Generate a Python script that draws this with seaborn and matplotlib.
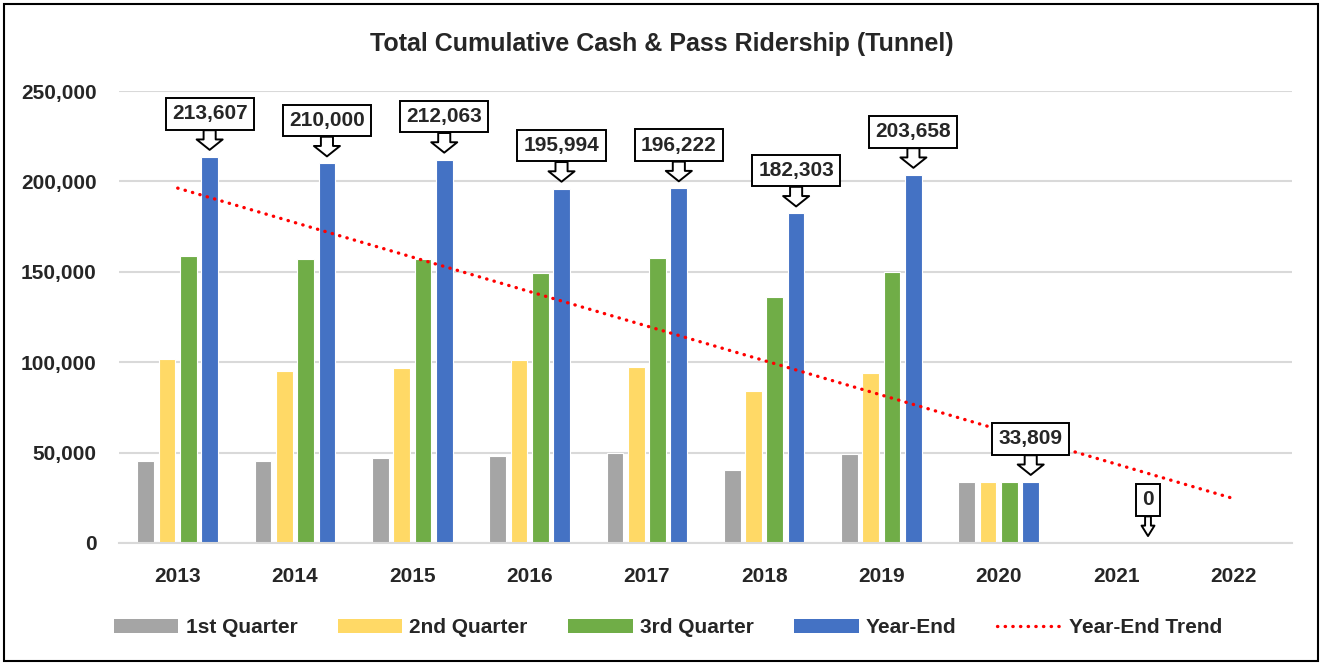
import matplotlib
matplotlib.use("Agg")
import matplotlib.pyplot as plt
from matplotlib.patches import Patch, Rectangle
from matplotlib.lines import Line2D
from matplotlib.ticker import StrMethodFormatter
import seaborn as sns
import pandas as pd
import numpy as np

# === DATA ===
years = ['2013', '2014', '2015', '2016', '2017', '2018', '2019', '2020', '2021', '2022']
quarters = ['1st Quarter', '2nd Quarter', '3rd Quarter', 'Year-End']
q1 = [45200, 45200, 46800, 47900, 49950, 40500, 49200, 33809, np.nan, np.nan]
q2 = [101600, 94950, 96950, 101400, 97100, 84200, 93800, 33809, np.nan, np.nan]
q3 = [158550, 156900, 157050, 149500, 157600, 135800, 149650, 33809, np.nan, np.nan]
year_end = [213607, 210000, 212063, 195994, 196222, 182303, 203658, 33809, 0, np.nan]
trend_years = ['2013', '2022']
trend_values = [196300, 24600]

colors = {'1st Quarter': '#A5A5A5', '2nd Quarter': '#FFD966',
          '3rd Quarter': '#70AD47', 'Year-End': '#4472C4'}

# long-form table for seaborn
df = pd.concat([
    pd.DataFrame({'Year': years, 'Quarter': q, 'Riders': v})
    for q, v in zip(quarters, [q1, q2, q3, year_end])
], ignore_index=True)

# === STYLE ===
sns.set_theme(style="white")
plt.rcParams['font.family'] = ['Liberation Sans', 'DejaVu Sans']
plt.rcParams['font.weight'] = 'bold'
FS = 15

fig = plt.figure(figsize=(13.2, 6.63), dpi=100)
ax = fig.add_axes([0.0902, 0.181, 0.8886, 0.6817])

sns.barplot(data=df, x='Year', y='Riders', hue='Quarter', order=years,
            hue_order=quarters, palette=colors, saturation=1, errorbar=None,
            width=0.726, gap=0.216, edgecolor='white', linewidth=0.8,
            legend=False, ax=ax, zorder=2)

# year-end trend (dotted red)
trend_x = [years.index(y) for y in trend_years]
ax.plot(trend_x, trend_values, color='#FF0000', lw=2.4,
        linestyle=(0, (0.1, 2.2)), dash_capstyle='round', zorder=4)

# callouts on year-end bars
for bar in ax.containers[3]:
    h = bar.get_height()
    if np.isnan(h):
        continue
    x = bar.get_x() + bar.get_width() / 2
    hw, tw = (0.62, 0.28) if h == 0 else (1.25, 0.58)
    ax.annotate(f'{h:,.0f}', xy=(x, h), xytext=(0, 31), textcoords='offset points',
                ha='center', va='center', fontsize=FS, fontweight='bold',
                bbox=dict(boxstyle='square,pad=0.3', fc='white', ec='black', lw=1.4),
                arrowprops=dict(arrowstyle=f'simple,head_length=0.5,head_width={hw},tail_width={tw}',
                                fc='white', ec='black', lw=1.4, shrinkA=0, shrinkB=5),
                zorder=5)

# === AXES ===
ax.set_ylim(0, 250000)
ax.set_xlim(-0.5, len(years) - 0.5)
ax.set_yticks(range(0, 250001, 50000))
ax.yaxis.set_major_formatter(StrMethodFormatter('{x:,.0f}'))
ax.yaxis.grid(True, color='#D9D9D9', lw=1.5, zorder=0)
ax.xaxis.grid(False)
ax.set_axisbelow(True)
for side in ['top', 'right', 'left']:
    ax.spines[side].set_visible(False)
ax.spines['bottom'].set_color('#D9D9D9')
ax.spines['bottom'].set_linewidth(1.5)
ax.tick_params(axis='both', length=0, labelsize=FS)
ax.tick_params(axis='y', pad=16)
ax.tick_params(axis='x', pad=17.5)
for lbl in ax.get_xticklabels() + ax.get_yticklabels():
    lbl.set_fontweight('bold')
ax.set_xlabel('')
ax.set_ylabel('')

# === TITLE / LEGEND / BORDER ===
fig.text(0.5016, 0.9336, 'Total Cumulative Cash & Pass Ridership (Tunnel)',
         ha='center', va='center', fontsize=18, fontweight='bold')

handles = [Patch(facecolor=colors[q], edgecolor='none') for q in quarters]
handles.append(Line2D([0], [0], color='#FF0000', lw=2.4,
                      linestyle=(0, (0.1, 2.2)), dash_capstyle='round'))
labels = quarters + ['Year-End Trend']
fig.legend(handles, labels, loc='center', bbox_to_anchor=(0.506, 0.0528),
           ncol=5, frameon=False, prop={'size': FS, 'weight': 'bold'},
           handlelength=3.08, handleheight=0.64, handletextpad=0.35, columnspacing=1.95)

fig.patches.append(Rectangle((0.0034, 0.0023), 0.9951, 0.991, transform=fig.transFigure,
                             fill=False, edgecolor='black', lw=1.5))

fig.savefig('out.png', dpi=100)
